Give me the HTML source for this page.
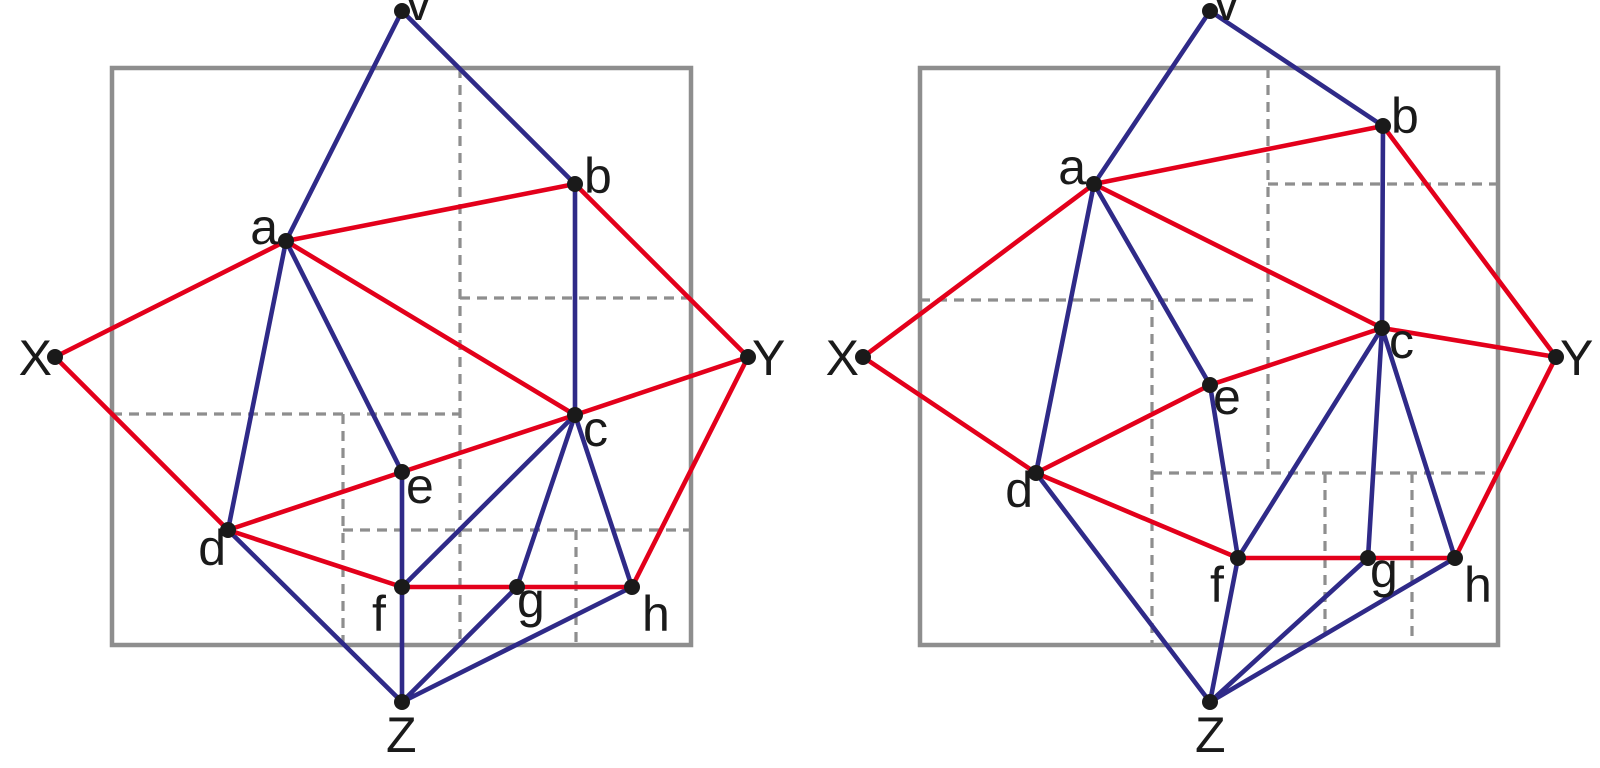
<!DOCTYPE html>
<html><head><meta charset="utf-8"><style>
html,body{margin:0;padding:0;background:#fff;width:1600px;height:768px;overflow:hidden}
text{font-family:"Liberation Sans",sans-serif;font-size:50px;fill:#1a1a1a}
</style></head><body>
<svg width="1600" height="768" viewBox="0 0 1600 768" xmlns="http://www.w3.org/2000/svg">
<g fill="none" stroke="#8e8e8e" stroke-width="3.2" stroke-dasharray="10,7">
<path d="M460 68V645M460 298H691M112 414H460M343 414V645M343 530H691M576 530V645"/>
<path d="M1268 68V473M1268 184H1498M920 300H1255M1152 300V645M1152 473H1498M1325 473V645M1412 473V645"/>
</g>
<g fill="none" stroke="#8e8e8e" stroke-width="4.5">
<rect x="112" y="68" width="579" height="577"/>
<rect x="920" y="68" width="578" height="577"/>
</g>
<g stroke="#2f2a88" stroke-width="4.6" stroke-linecap="round">
<path d="M402 11L286 241M402 11L575 184M575 184L575 415M286 241L228 530M286 241L402 472M402 472L402 587M402 587L402 702M228 530L402 702M575 415L402 587M575 415L517 587M575 415L632 587M517 587L402 702M632 587L402 702"/>
<path d="M1210 11L1094 184M1210 11L1383 126M1383 126L1382 328M1094 184L1036 473M1094 184L1210 385M1210 385L1238 558M1036 473L1210 702M1238 558L1210 702M1382 328L1238 558M1382 328L1368 558M1382 328L1455 558M1368 558L1210 702M1455 558L1210 702"/>
</g>
<g stroke="#e3001b" stroke-width="4.6" stroke-linecap="round">
<path d="M55 357L286 241M286 241L575 184M575 184L748 357M286 241L575 415M55 357L228 530M228 530L402 472M402 472L575 415M575 415L748 357M228 530L402 587M402 587L632 587M632 587L748 357"/>
<path d="M863 357L1094 184M1094 184L1383 126M1383 126L1556 357M1094 184L1382 328M1382 328L1556 357M863 357L1036 473M1036 473L1210 385M1210 385L1382 328M1036 473L1238 558M1238 558L1455 558M1455 558L1556 357"/>
</g>
<g fill="#1a1a1a">
<circle cx="402" cy="11" r="8"/><circle cx="286" cy="241" r="8"/><circle cx="575" cy="184" r="8"/><circle cx="55" cy="357" r="8"/><circle cx="748" cy="357" r="8"/><circle cx="575" cy="415" r="8"/><circle cx="402" cy="472" r="8"/><circle cx="228" cy="530" r="8"/><circle cx="402" cy="587" r="8"/><circle cx="517" cy="587" r="8"/><circle cx="632" cy="587" r="8"/><circle cx="402" cy="702" r="8"/>
<circle cx="1210" cy="11" r="8"/><circle cx="1094" cy="184" r="8"/><circle cx="1383" cy="126" r="8"/><circle cx="863" cy="357" r="8"/><circle cx="1556" cy="357" r="8"/><circle cx="1382" cy="328" r="8"/><circle cx="1210" cy="385" r="8"/><circle cx="1036" cy="473" r="8"/><circle cx="1238" cy="558" r="8"/><circle cx="1368" cy="558" r="8"/><circle cx="1455" cy="558" r="8"/><circle cx="1210" cy="702" r="8"/>
</g>
<text x="406" y="20">v</text>
<text x="278" y="244" text-anchor="end">a</text>
<text x="584" y="193">b</text>
<text x="52" y="375" text-anchor="end">X</text>
<text x="752" y="375">Y</text>
<text x="583" y="446">c</text>
<text x="406" y="503">e</text>
<text x="226" y="565" text-anchor="end">d</text>
<text x="372" y="631">f</text>
<text x="517" y="617">g</text>
<text x="642" y="631">h</text>
<text x="386" y="752">Z</text>
<text x="1214" y="20">v</text>
<text x="1086" y="184" text-anchor="end">a</text>
<text x="1391" y="133">b</text>
<text x="859" y="375" text-anchor="end">X</text>
<text x="1560" y="375">Y</text>
<text x="1389" y="358">c</text>
<text x="1213" y="414">e</text>
<text x="1033" y="507" text-anchor="end">d</text>
<text x="1210" y="602">f</text>
<text x="1370" y="587">g</text>
<text x="1464" y="602">h</text>
<text x="1195" y="752">Z</text>
</svg>
</body></html>
